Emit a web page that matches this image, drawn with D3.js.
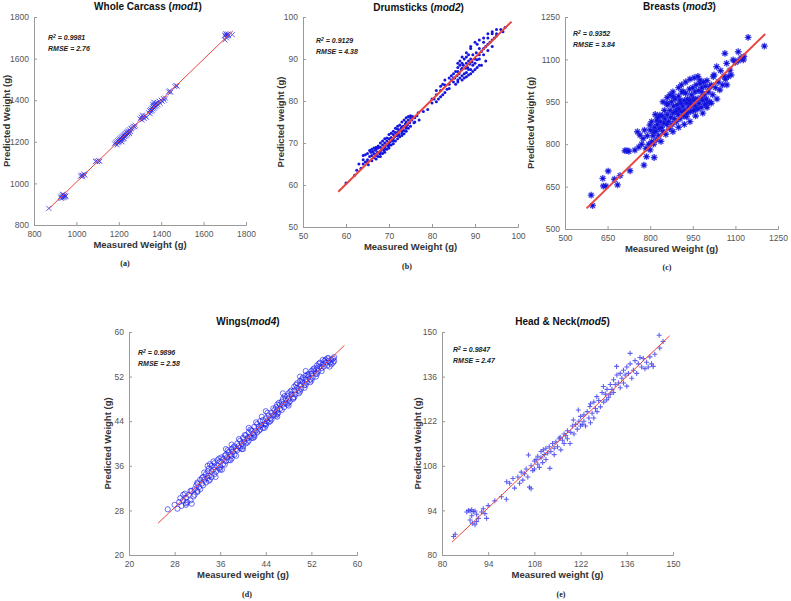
<!DOCTYPE html>
<html><head><meta charset="utf-8">
<script src="https://cdn.jsdelivr.net/npm/d3@7"></script>
<style>
body{margin:0;background:#fff;}
svg{display:block;font-family:"Liberation Sans",Arial,sans-serif;}
</style></head><body>
<svg id="c" width="791" height="601"></svg>
<script>
// ---------- DATA ----------
const carcassPts = [[870,880],
[925,935],[930,940],[935,930],[938,945],[940,938],[942,932],[945,942],[948,936],[935,948],[950,940],[928,928],
[1020,1035],[1025,1040],[1030,1038],[1035,1045],[1040,1040],[1028,1032],
[1090,1105],[1095,1108],[1100,1104],[1105,1110],[1110,1106],
[1180,1190],[1185,1195],[1190,1200],[1192,1185],[1195,1205],[1198,1195],[1200,1210],[1203,1200],[1205,1215],[1208,1205],[1210,1220],[1212,1210],[1215,1225],[1218,1212],[1220,1230],[1222,1218],[1225,1235],[1228,1225],[1230,1240],[1232,1228],[1235,1245],[1238,1232],[1240,1248],[1243,1238],[1245,1252],[1248,1245],[1250,1258],[1255,1250],[1258,1262],[1260,1265],[1265,1270],[1270,1275],[1275,1272],[1278,1280],[1215,1200],[1225,1215],[1250,1240],
[1300,1310],[1305,1318],[1310,1305],[1315,1320],[1320,1312],[1325,1325],[1330,1318],[1312,1328],
[1340,1340],[1345,1350],[1348,1335],[1350,1355],[1352,1345],[1355,1362],[1358,1350],[1360,1370],[1362,1358],[1365,1375],[1368,1362],[1370,1380],[1372,1368],[1375,1385],[1378,1372],[1380,1390],[1385,1378],[1390,1395],[1395,1385],[1400,1400],[1405,1395],[1410,1408],[1415,1400],[1420,1410],[1360,1380],[1365,1390],
[1435,1440],[1440,1445],[1445,1438],
[1465,1465],[1470,1470],[1475,1468],
[1700,1710],[1705,1720],[1710,1715],[1708,1700],[1715,1718],[1700,1690],[1735,1715],[1712,1708],[1703,1713],[1718,1710]];

const drumPts = [[60,60.5],[62,62.3],[62.5,63.5],[63,65],[63.5,64],[64,66],[64,67],[64.5,65.5],[64.5,67.2],[65,66],[65,67.5],[65.2,64.8],[65.5,66.8],[65.8,67.8],[66,65.8],[66,67],[66.2,68],[66.5,66.5],[66.5,67.5],[66.8,68.3],[67,66.2],[67,67.3],[67,68.5],[67.3,67.8],[67.5,66.8],[67.5,68.8],[67.8,67.5],[68,68],[68,69],[68,66.8],[68.3,68.5],[68.5,67.5],[68.5,69.5],[68.8,68.2],[69,69],[69,70],[69,67.8],[69.3,69.5],[69.5,68.5],[69.5,70.5],[69.8,69.2],[70,70],[70,71],[70,68.8],[70.3,70.3],[70.5,69.5],[70.5,71.3],[70.8,70.6],[71,71],[71,72],[71,69.8],[71.3,71.5],[71.5,70.5],[71.5,72.5],[71.8,71.8],[72,72.5],[72,73.3],[72,71],[72.3,72],[72.5,73],[72.5,71.5],[72.8,73.5],[73,72.3],[73,73.8],[73,71.8],[73.3,74],[73.5,73],[73.5,72.2],[73.8,74.5],[74,73.5],[74,75],[74,72.8],[74.3,74.3],[74.5,73.5],[74.5,75.5],[74.8,74.8],[75,76],[75,74],[75.3,75.5],[75.5,76.3],[75.8,74.8],[76,76],[76,75],[76.5,76.5],[77,75.5],[76.8,77.2],
[64,65],[65,65.5],[65.5,68.2],[66,68.5],[66.5,68.8],[67,69],[67.5,69.3],[68,70],[68.5,70.5],[69,71],[69.5,71.2],[70,72],[70.5,72.3],[71,72.8],[71.5,73.5],[72,74],[72.5,74.3],[73,75],[73.5,75.5],[74,76],[74.5,76.3],[75,76.5],[67,67],[68,67.5],[69,68.5],[70,69.5],[71,70.5],[72,71.8],[73,72.8],[74,73.8],
[78,77.5],[79,78],[80,79.5],[80.5,80.5],[81,79.8],[81,81.5],[81.5,80.5],[82,81],[82,82.5],[82.5,81.5],[83,82],[83,83.8],[83.5,82.8],[84,84],[84,83],[84.5,85],[82,83.5],[83,85],[84,85.5],[85,85.5],[81,82.5],[80,80.5],[82.5,84],
[84.5,86],[85,84.5],[85,86.5],[85.3,85.5],[85.5,87],[85.5,84],[85.8,86],[86,88],[86,85],[86,87],[86.3,86.5],[86.5,88.5],[86.5,85.5],[86.8,87.5],[87,89],[87,86],[87,87.8],[87.3,88.5],[87.5,90],[87.5,86.5],[87.8,87.8],[88,89],[88,90.5],[88,86.8],[88.3,88],[88.5,89.5],[88.5,91],[88.5,87.5],[88.8,88.8],[89,90],[89,87.5],[89.3,89.3],[89.5,91],[89.5,88.5],[90,90],[90,89],[90.3,91.5],[90.5,89.8],[91,91],[91,92.5],[91,90],[91.5,91.8],[92,92.5],[92,91],[92,94],[92.5,93],[93,93.5],[93,95],[93,92],[93.5,94],[94,94.5],[94,96],[94,93],[94.5,95],[95,95.5],[95,97],[96,97],[96.5,96.5],[97,97.5],[90.5,93.5],[89,92.5],[86.5,89.5],[92.5,89.5],[91.5,88.5],
[86,84.5],[87,85],[87.5,85.5],[88,85.8],[88.5,86.2],[89,86.5],[89.5,87],[90,87.5],[90.5,88],[91,88.5],[86,89],[87,90.5],[88,91.5],[89,93],[90,94],[91,94.5],[92,95],[93,96],[94,96.5],[95,96]];

const breastPts = [[592,620],[597,583],[633,679],[635,652],[644,652],[652,705],[674,676],[685,656],[694,689],[729,706],[711,777],[718,777],[725,775],[746,779],[755,844],[764,832],[778,726],[787,756],[785,785],[814,753],[805,809],[799,868],[811,844],[823,885],[834,903],[858,944],[881,968],[893,921],[905,956],[916,986],[928,897],[940,944],[952,962],[958,921],[975,1027],[981,986],[999,944],[1010,1003],[1022,1039],[1034,1074],[1045,992],[1063,1121],[1069,1086],[1075,1039],[1081,1062],[1092,1098],[1110,1127],[1128,1098],[1145,1178],[1202,1147],
[760,790],[770,800],[775,820],[780,850],[790,830],[795,800],[800,780],[800,850],[805,880],[810,830],[812,800],[815,860],[818,905],[820,845],[822,815],[825,870],[828,895],[830,830],[832,855],[835,880],[838,810],[840,860],[842,900],[845,845],[848,875],[850,920],[852,890],[855,835],[858,870],[860,905],[862,940],[865,880],[868,855],[870,920],[872,895],[875,950],[878,870],[880,910],[882,935],[885,890],[888,960],[890,915],[892,880],[895,940],[898,905],[900,970],[902,925],[905,890],[908,945],[910,915],[912,985],[915,935],[918,900],[920,955],[922,920],[925,980],[928,945],[930,910],[932,960],[935,930],[938,995],[940,955],[942,915],[945,975],[948,940],[950,1000],[952,920],[955,955],[958,985],[960,935],[962,1010],[965,960],[968,925],[970,990],[972,945],[975,1015],[978,965],[980,930],[982,1000],[985,955],[988,1020],[990,975],[992,940],[995,1005],[998,960],[1000,1025],[1005,985],[1010,950],[1015,1010],[1020,975],[1025,1045],[1030,1000],[1035,960],[1040,1020],[1048,1060],[1055,1010],[1060,1040],[1065,1030],[1070,1010],[1085,1045],[1100,1090],[1110,1095],[1120,1105],[1130,1110],
[845,950],[860,965],[870,975],[880,985],[900,1000],[910,1010],[925,1020],[940,1030],[955,1035],[968,1040],
[880,845],[900,860],[920,870],[940,880],[960,900],[985,910],[1000,930],[1015,945]];

const wingPts = [[26.8,28.2],[28.5,28.3],[28.8,29.5],[29,30.2],[29.2,28.8],[29.5,29.8],[29.8,31],[30,30.3],[30.2,29.5],[30.5,30.8],[30.8,29.8],[31,31.5],[31,29.2],[31.3,30.5],[31.5,31.8],[31.8,32.5],[32,31.5],[32,33],[32.3,32.2],[32.5,33.5],[32.5,31.8],[32.8,32.8],[33,34],[33,32.5],[33.2,33.5],[33.5,34.5],[33.5,33],[33.8,35],[33.8,33.8],[34,34.2],[34,35.5],[34.2,33.5],[34.5,35],[34.5,36],[34.5,34],[34.8,35.3],[35,36.5],[35,34.5],[35,35.8],[35.3,35],[35.5,36],[35.5,37],[35.8,35.5],[36,36.8],[36,35.8],[36.2,37.5],[36.5,36.3],[36.5,37.2],[36.8,37.8],[37,36.8],[37,38],[37.2,37.5],[37.5,38.5],[37.5,37],[37.8,38],[38,39],[38,37.8],[38.2,38.5],[38.5,39.5],[38.5,38],[38.8,39],[39,40],[39,38.8],[39.2,39.5],[39.5,40.5],[39.5,39.2],[39.8,40],[40,41],[40,39.5],[40.2,40.3],[40.5,41.5],[40.5,40],[40.8,41],[41,42],[41,40.5],[41.2,41.2],[41.5,42.3],[41.5,41],[41.8,41.8],[42,43],[42,41.5],[42.2,42.3],[42.5,43.5],[42.5,42],[42.8,43],[43,44],[43,42.5],[43.2,43.3],[43.5,44.2],[43.5,42.8],[43.8,43.5],[44,44.5],[44,43.2],[44.2,44],[44.5,45],[44.5,43.8],[44.8,44.5],[45,45.5],[45,44.3],[45.3,45],[45.5,46],[45.5,45.2],[45.8,46.5],[46,46],[46,47],[46.2,45.5],[46.5,47],[46.5,46.2],[46.8,47.5],[47,47],[47,48],[47.2,46.5],[47.5,48],[47.5,47.2],[47.8,48.5],[48,48],[48,49],[48.2,47.5],[48.5,48.8],[48.5,49.5],[48.8,48.2],[49,49.5],[49,50.2],[49.2,48.8],[49.5,50],[49.5,50.8],[49.8,49.5],[50,50.5],[50,51.2],[50.2,49.8],[50.5,51],[50.5,51.8],[50.8,50.5],[51,51.5],[51,52.2],[51.2,51],[51.5,52],[51.5,52.5],[51.8,51.5],[52,52.5],[52,53],[52.2,51.8],[52.5,53],[52.5,53.5],[52.8,52.5],[53,53.5],[53,54],[53.2,53],[53.5,53.8],[53.5,54.5],[53.8,53.5],[54,54.2],[54,55],[54.2,53.8],[54.5,54.5],[54.5,55],[54.8,54],[55,54.8],[55,55.3],[55.3,54.5],[55.5,55],[55.5,54.2],[55.8,55.2],[56,54.8],[56,55.5],[51,53],[50,52],[47,49],[44,45.8],[41,42.8],[38,39.8],[37,39],[46,44.8],[48,46.8],
[28,29],[29.5,30.8],[30,29],[30.8,31.5],[31.5,30.8],[32,32.8],[32.8,33.8],[33.2,34.8],[33.8,36],[34.2,36.3],[34.8,36.8],[35.2,34],[35.8,37.3],[36.3,35.3],[36.8,36.2],[37.3,38.8],[37.8,37],[38.3,39.3],[38.8,37.8],[39.3,40.8],[39.8,39],[40.3,41.5],[40.8,40.2],[41.3,42.5],[41.8,41],[42.3,43.8],[42.8,42.3],[43.3,44.8],[43.8,42.8],[44.3,45.5],[44.8,44],[45.3,46.3],[45.8,45],[46.3,47.3],[46.8,46],[47.3,48.5],[47.8,47],[48.3,49.3],[48.8,48],[49.3,50.5],[49.8,49],[50.3,51.5],[50.8,50],[51.3,52.3],[51.8,51],[52.3,53.3],[52.8,52],[53.3,54.3],[53.8,53],[54.3,54.8],[54.8,55.3],[55.2,53.8],[55.8,54.5],[53,52.5],[52,51.3],[51,50.5],[50,49.3],[49,48.3],[48,47.3],[46,45.3],[44,43.5],[42,41.2],[40,39],[38,37.3],[36,35.3],[34,33.3],[32,31.3],[30,29.3]];

const headPts = [[84,86.5],[83.5,85.8],[87.5,93.5],[88,94],[88.5,93.8],[89,94.2],[89.5,93.6],[90,93.8],[90.5,92.8],[89,92.3],[88.5,91],[89.2,90],[90,89.5],[90.5,90.5],[91,91.5],[92,93.5],[92.5,94.5],[93,93],[93.5,91.5],[94,95.5],[96,97],[98,98.3],[99.5,97.5],[99.6,103],[100.5,102.5],[101.5,104],[102,101],[103,104.5],[103.5,102.5],[104,106],[104.5,103.5],[105,105.5],[105.5,107],[106,104.5],[106.2,111.4],[106.5,101.3],[107,100.8],[107,108],[107.5,106.5],[108,109.5],[108,107],[108.5,110],[109,108.5],[109,111],[109.5,107.5],[110,110.5],[110,112.5],[110.5,109],[110.7,113],[111,111.5],[111.5,110],[111.5,113.5],[112,112],[112.5,114],[112.7,107.2],[113,112.5],[113.5,115],[114,113.5],[114,111.5],[114.5,115.5],[115,114],[115.5,116.5],[115.8,117],[116,113],[116.5,116],[117,118],[117,115],[117.5,117.5],[118,119],[118,116.5],[118.8,115],[119,118.5],[119.5,120.5],[119.8,122.4],[120,118],[120.5,121],[121,119.5],[121.3,125.5],[121.5,122],[122,120.5],[122,123.5],[122.5,121],[123,124],[123,122],[123.5,120.5],[124,125],[124.5,123],[124.8,126.6],[125,121.5],[125,127.5],[125.5,124.5],[126,123],[126,128],[126.5,126],[126.9,129.7],[127,125],[127.5,128.5],[128,126.5],[128.5,131],[128.9,132.9],[129,128],[129.5,130.5],[129.9,128.7],[130,132],[130.5,129.5],[131,133.5],[131,130.5],[131.5,132],[132,135],[132,131],[132.5,133.5],[132.9,139.2],[133,136.5],[133.5,134],[134,137],[134,132.5],[134.5,135.5],[135,138],[135,134],[135.5,136.5],[136,139],[136,133],[136.5,137],[137,143.3],[137,140],[137.5,135.5],[138,138],[138.5,141],[139,137],[139.5,140],[140,142],[140.5,139],[141,141.7],[141.5,138.5],[142,140.5],[142.5,139],[143,142.2],[143.5,140],[144,139.2],[144.5,143],[145.8,149],[147,147],[146,145]];

// fitted lines [[x1,y1],[x2,y2]]
const carcassFit = [[870,878],[1738,1733]];
const drumFit = [[58.2,58.4],[98.5,98.9]];
const breastFit = [[576,573],[1205,1190]];
const wingFit = [[25.1,25.7],[57.8,57.6]];
const headFit = [[83,84],[149,148.8]];

const carcassTicks = [800,1000,1200,1400,1600,1800];
const drumTicks = [50,60,70,80,90,100];
const breastTicks = [500,650,800,950,1100,1250];
const wingTicks = [20,28,36,44,52,60];
const headTicks = [80,94,108,122,136,150];

const titles = [["Whole Carcass (","mod1",")"],["Drumsticks (","mod2",")"],["Breasts (","mod3",")"],["Wings(","mod4",")"],["Head & Neck(","mod5",")"]];
const xLabels = ["Measured Weight (g)","Measured Weight (g)","Measured Weight (g)","Measured weight (g)","Measured weight (g)"];
const yLabels = ["Predicted Weight (g)","Predicted weight (g)","Predicted Weight (g)","Predicted Weight (g)","Predicted Weight (g)"];
const r2Values = ["0.9981","0.9129","0.9352","0.9896","0.9847"];
const rmseValues = ["2.76","4.38","3.84","2.58","2.47"];
const panelTags = ["(a)","(b)","(c)","(d)","(e)"];

// ---------- LAYOUT ----------
const layout = [
 {x0:34,x1:246,y0:225,y1:17, yl:7,  ty:9.5, tag:[125,266], stat:[48,40], marker:"x"},
 {x0:303,x1:518,y0:227,y1:17, yl:281, ty:11, tag:[407,269], stat:[316,43], marker:"dot"},
 {x0:565,x1:778,y0:229,y1:17, yl:531, ty:10, tag:[667,270], stat:[573,36], marker:"star"},
 {x0:129,x1:357,y0:555,y1:332, yl:108, ty:325, tag:[247,597], stat:[138,355], marker:"circle"},
 {x0:442,x1:673,y0:555,y1:332, yl:418, ty:325, tag:[561,597], stat:[453,352], marker:"plus"}
];
const datasets = [carcassPts,drumPts,breastPts,wingPts,headPts];
const fits = [carcassFit,drumFit,breastFit,wingFit,headFit];
const ticksets = [carcassTicks,drumTicks,breastTicks,wingTicks,headTicks];
const fitWidth = [1,2,2,1,1];

const svg = d3.select("#c");

layout.forEach((L,i)=>{
  const t = ticksets[i];
  const xs = d3.scaleLinear().domain([t[0],t[t.length-1]]).range([L.x0,L.x1]);
  const ys = d3.scaleLinear().domain([t[0],t[t.length-1]]).range([L.y0,L.y1]);
  const g = svg.append("g");

  const xa = g.append("g").attr("transform",`translate(0,${L.y0})`)
    .call(d3.axisBottom(xs).tickValues(t).tickSize(-3).tickPadding(6).tickFormat(d3.format("d")));
  const ya = g.append("g").attr("transform",`translate(${L.x0},0)`)
    .call(d3.axisLeft(ys).tickValues(t).tickSize(-3).tickPadding(5).tickFormat(d3.format("d")));
  [xa,ya].forEach(a=>{
    a.select(".domain").attr("stroke","#9a9a9a").attr("stroke-width",1);
    a.selectAll(".tick line").attr("stroke","#9a9a9a");
    a.selectAll(".tick text").attr("fill","#555").attr("font-size","8.5px").attr("font-family","Liberation Sans, Arial, sans-serif");
  });

  const pts = datasets[i];
  const pg = g.append("g");
  pts.forEach(p=>{
    const cx = xs(p[0]), cy = ys(p[1]);
    if(L.marker==="x"){
      pg.append("path").attr("d",`M${cx-2.5},${cy-2.5}L${cx+2.5},${cy+2.5}M${cx-2.5},${cy+2.5}L${cx+2.5},${cy-2.5}`)
        .attr("stroke","#2a2ae8").attr("stroke-width",1).attr("opacity",0.75);
    } else if(L.marker==="dot"){
      pg.append("circle").attr("cx",cx).attr("cy",cy).attr("r",1.5).attr("fill","#1515e0");
    } else if(L.marker==="star"){
      let d="";
      for(let k=0;k<4;k++){const a=k*Math.PI/4;const dx=3.4*Math.cos(a),dy=3.4*Math.sin(a);d+=`M${cx-dx},${cy-dy}L${cx+dx},${cy+dy}`;}
      pg.append("path").attr("d",d).attr("stroke","#1a1ae0").attr("stroke-width",1.4).attr("opacity",0.8);
      pg.append("circle").attr("cx",cx).attr("cy",cy).attr("r",1.6).attr("fill","#1010d8");
    } else if(L.marker==="circle"){
      pg.append("circle").attr("cx",cx).attr("cy",cy).attr("r",2.6).attr("fill","none").attr("stroke","#1a1aee").attr("stroke-width",0.9).attr("opacity",0.7);
    } else {
      pg.append("path").attr("d",`M${cx-2.5},${cy}L${cx+2.5},${cy}M${cx},${cy-2.5}L${cx},${cy+2.5}`)
        .attr("stroke","#3a3aee").attr("stroke-width",1.1).attr("opacity",0.8);
    }
  });

  const f = fits[i];
  g.append("line").attr("x1",xs(f[0][0])).attr("y1",ys(f[0][1])).attr("x2",xs(f[1][0])).attr("y2",ys(f[1][1]))
    .attr("stroke","#e8453f").attr("stroke-width",fitWidth[i]);

  const cxT = (L.x0+L.x1)/2;
  const tt = g.append("text").attr("x",cxT+(i<3?8:5)).attr("y",L.ty).attr("text-anchor","middle")
    .attr("font-size","10px").attr("font-weight","bold").attr("fill","#111");
  tt.append("tspan").text(titles[i][0]);
  tt.append("tspan").attr("font-style","italic").text(titles[i][1]);
  tt.append("tspan").text(titles[i][2]);

  g.append("text").attr("x",cxT).attr("y",L.y0+23).attr("text-anchor","middle")
    .attr("font-size","9.5px").attr("font-weight","bold").attr("fill","#333").text(xLabels[i]);
  g.append("text").attr("transform",`translate(${L.yl},${(L.y0+L.y1)/2}) rotate(-90)`).attr("text-anchor","middle")
    .attr("dy","0.35em").attr("font-size","9.5px").attr("font-weight","bold").attr("fill","#333").text(yLabels[i]);

  const st = g.append("text").attr("x",L.stat[0]).attr("y",L.stat[1]).attr("font-size","7px")
    .attr("font-weight","bold").attr("font-style","italic").attr("fill","#222");
  st.append("tspan").text("R");
  st.append("tspan").attr("dy","-2.5").attr("font-size","5px").text("2");
  st.append("tspan").attr("dy","2.5").text(" = "+r2Values[i]);
  g.append("text").attr("x",L.stat[0]).attr("y",L.stat[1]+11).attr("font-size","7px")
    .attr("font-weight","bold").attr("font-style","italic").attr("fill","#222").text("RMSE = "+rmseValues[i]);

  g.append("text").attr("x",L.tag[0]).attr("y",L.tag[1]).attr("text-anchor","middle")
    .attr("font-family","Liberation Serif, Times New Roman, serif").attr("font-weight","bold")
    .attr("font-size","8px").attr("fill","#222").text(panelTags[i]);
});
</script>
</body></html>
